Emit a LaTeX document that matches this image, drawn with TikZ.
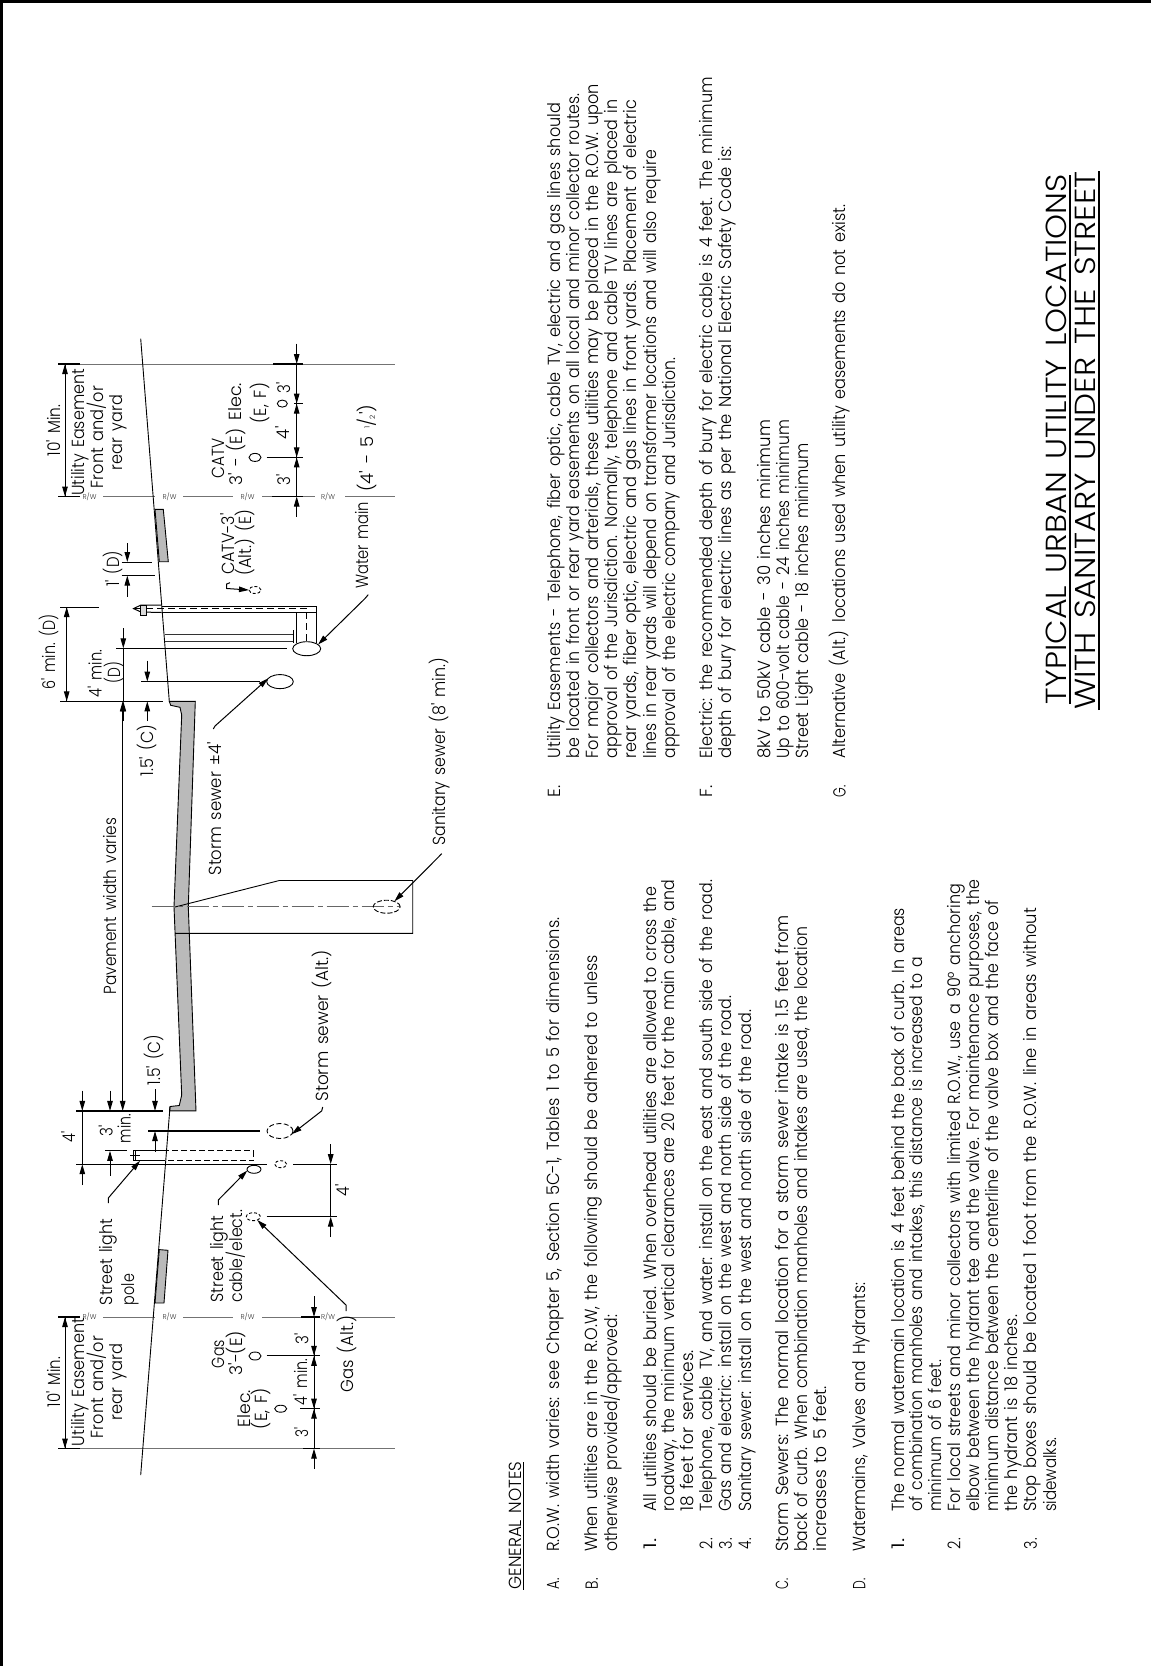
\documentclass[tikz,border=0pt]{standalone}
\usepackage{fontspec}
\setmainfont{Poppins}[UprightFont=* Light]
\usetikzlibrary{arrows.meta,shapes.geometric}
\newcount\tnum
\newcommand\ft{\textquotesingle}
\newcommand\wsp{\spaceskip .4em\relax}
\newcommand\tl[4]{\global\advance\tnum by 1 \pgfmathsetmacro\tlen{#2-#3}\node[txt,name=t\the\tnum] at (#1,#2) {\resizebox{\tlen pt}{\height}{\wsp #4}};}
\newcommand\tlB[4]{\global\advance\tnum by 1 \pgfmathsetmacro\tlen{#2-#3}\node[txt,font=\fontsize{29}{29}\selectfont,name=t\the\tnum] at (#1,#2) {\resizebox{\tlen pt}{\height}{\wsp #4}};}
\newcommand\rw[2]{\global\advance\tnum by 1 \node[rwt,name=t\the\tnum] at (#1,#2) {R/W};}
\tikzset{
 txt/.style={rotate=90,anchor=base west,inner sep=0,outer sep=0,font=\fontsize{17.5}{17.5}\selectfont,text=black},
 rwt/.style={inner sep=0,font=\fontsize{7}{7}\selectfont,text=black!80},
 thin line/.style={line width=0.8pt,black!55},
 heavy/.style={line width=1.2pt,black},
 med/.style={line width=0.9pt,black},
 dimar/.style={-{Triangle[length=10pt,width=5.5pt]},line width=1pt,black},
 pipe/.style={ellipse,draw,line width=0.9pt,inner sep=0,outer sep=0,fill=white},
 pipealt/.style={pipe,dashed,dash pattern=on 5pt off 2.5pt},
 slab/.style={draw,line width=0.9pt,fill=black!27}
}
\begin{document}
\begin{tikzpicture}[x=1pt,y=-1pt]
\useasboundingbox (0,0) rectangle (1151,1666);
\fill[white] (0,0) rectangle (1151,1666);
% frame
\draw[line width=3.4pt,black] (1.7,1666) -- (1.7,1.7) -- (1151,1.7);

% right-of-way and easement lines
\foreach \yy in {1317,496.5}{
 \draw[thin line] (103,\yy) -- (155,\yy) (183,\yy) -- (233,\yy) (262,\yy) -- (315,\yy) (345,\yy) -- (395,\yy);
 \draw[heavy] (58,\yy) -- (80,\yy);
}
\rw{89.5}{1317}\rw{169.5}{1317}\rw{247.5}{1317}\rw{328}{1317}
\rw{89.5}{496.5}\rw{169.5}{496.5}\rw{247.5}{496.5}\rw{328}{496.5}
\foreach \yy in {1448.6,364}{
 \draw[thin line] (58,\yy) -- (395,\yy);
 \draw[heavy] (58,\yy) -- (80,\yy);
}

% pavement
\draw[slab] (169.5,1110.9) -- (170,1106.5) -- (179.3,1105.5) -- (181.7,1095) -- (174,906.7) -- (181.7,715) -- (180,707.3) -- (170.7,705.3) -- (169.3,701.3) -- (195.3,701.3) -- (188.3,906.7) -- (196,1110.9) -- cycle;
% ground
\draw[med] (140.7,1475) -- (170,1107);
\draw[med] (140.7,338.7) -- (169.3,701.3);
% sidewalks
\draw[slab] (159.3,1249.6) -- (168,1250.3) -- (164,1303) -- (155,1303) -- cycle;
\draw[slab] (155,509.3) -- (163.3,509.3) -- (168.3,561.7) -- (159.3,561.7) -- cycle;

% sanitary trench
\draw[med] (175,907) -- (279.3,880.5) -- (412.7,880.5) -- (412.7,933.3) -- (175,933.3);
\draw[line width=0.8pt,black!60,dash pattern=on 22pt off 4pt on 5pt off 4pt] (151.7,906.7) -- (400,906.7);
\node[pipe,dashed,dash pattern=on 5pt off 2pt,minimum width=27pt,minimum height=13pt,fill=none] (san) at (386.7,906.7) {};
\coordinate (sanA) at (441.7,853.6);
\coordinate (sanB) at (438,857.5);
\draw[dimar] (sanA) -- (sanB) -- (san.35);
\tl{445}{845.7}{657.8}{Sanitary sewer (8\ft{} min.)}

% pavement width
\draw[med] (122.7,722) -- (122.7,1090);
\draw[dimar] (122.7,1090) -- (122.7,1110.9);
\draw[dimar] (122.7,722) -- (122.7,701.3);
\tl{116}{994.3}{818}{Pavement width varies}

% left curb dims
\draw[heavy] (76,1110.9) -- (163.3,1110.9);
\draw[heavy] (76,1164.2) -- (266.7,1164.2) (293,1164.2) -- (337,1164.2);
\draw[med] (82.3,1110.9) -- (82.3,1164.2);
\draw[dimar] (82.3,1090.5) -- (82.3,1110.9);
\draw[dimar] (82.3,1185) -- (82.3,1164.2);
\tl{75}{1142}{1131}{4\ft}
\draw[dimar] (110,1090.5) -- (110,1110.9);
\draw[med] (105,1150.8) -- (127,1150.8);
\draw[dimar] (110,1175.5) -- (110,1150.8);
\tl{112.7}{1136.8}{1125.7}{3\ft}
\tl{130.7}{1143}{1114}{min.}
\draw[dimar] (155,1089) -- (155,1110.9);
\tl{160}{1085}{1035}{1.5\ft{} (C)}
\draw[heavy] (148,1131) -- (260,1131);
\draw[dimar] (155,1151.5) -- (155,1131);
\node[pipealt,minimum width=26pt,minimum height=15pt,fill=none] (stormL) at (280,1131) {};
\coordinate (stormLa) at (322.7,1107);
\coordinate (stormLb) at (321.7,1110.9);
\draw[dimar] (stormLa) -- (stormLb) -- (stormL.-15);
\tl{328}{1101.6}{950}{Storm sewer (Alt.)}

% street light pole
\draw[med] (163,1150.8) -- (133.3,1150.8) -- (133.3,1160.8) -- (163,1160.8);
\draw[med,dashed,dash pattern=on 6pt off 3pt] (163,1150.8) -- (253.3,1150.8) -- (253.3,1160.8) -- (163,1160.8);
\draw[line width=0.8pt] (130,1155) -- (140,1155) (135,1151) -- (135,1160);
\coordinate (poleA) at (108.3,1203);
\coordinate (poleB) at (108.3,1198);
\draw[dimar] (poleA) -- (poleB) -- (140,1160.8);
\tl{112.7}{1305}{1219}{Street light}
\tl{134}{1305}{1274}{pole}

% street light cable
\node[pipe,minimum width=14pt,minimum height=8pt] (slc) at (254,1169.3) {};
\coordinate (slcA) at (218.3,1205);
\coordinate (slcB) at (218.3,1200);
\draw[dimar] (slcA) -- (slcB) -- (slc.190);
\tl{223}{1302.5}{1216}{Street light}
\tl{242}{1302.5}{1210}{cable/elect.}
\node[pipealt,minimum width=12pt,minimum height=7pt,fill=none,dash pattern=on 3pt off 2pt] (alt1) at (280.7,1164.2) {};

% 4 ft
\draw[heavy] (266.7,1216.7) -- (336.7,1216.7);
\draw[med] (330.7,1164.2) -- (330.7,1216.7);
\draw[dimar] (330.7,1144) -- (330.7,1164.2);
\draw[dimar] (330.7,1237) -- (330.7,1216.7);
\tl{349.3}{1196}{1184}{4\ft}
\node[pipealt,minimum width=14pt,minimum height=8pt,fill=none,dash pattern=on 3pt off 2pt] (gasalt) at (253.3,1216.7) {};
\coordinate (gasA) at (346,1311);
\coordinate (gasB) at (346,1305);
\draw[dimar] (gasA) -- (gasB) -- (gasalt.-40);
\tl{353}{1392}{1316}{Gas (Alt.)}

% left easement dims
\draw[med] (314,1317) -- (314,1448.6);
\draw[dimar] (314,1296) -- (314,1317);
\draw[dimar] (314,1335) -- (314,1355.8);
\draw[dimar] (314,1376) -- (314,1355.8);
\draw[dimar] (314,1388) -- (314,1408.7);
\draw[dimar] (314,1429) -- (314,1408.7);
\draw[dimar] (314,1468.6) -- (314,1448.6);
\draw[heavy] (266.7,1355.8) -- (320,1355.8) (300,1408.7) -- (320,1408.7) (301,1317) -- (320,1317) (303,1448.6) -- (320,1448.6);
\tl{308.3}{1344}{1333}{3\ft}
\tl{307}{1405}{1359}{4\ft{} min.}
\tl{308}{1437}{1427}{3\ft}
\tl{224}{1368}{1340}{Gas}
\tl{242.7}{1375.4}{1331}{3\ft-(E)}
\node[pipe,minimum width=12pt,minimum height=8pt] (gasP) at (255,1356) {};
\tl{250}{1427}{1390}{Elec.}
\tl{267}{1429}{1388}{(E, F)}
\node[pipe,minimum width=12pt,minimum height=7pt] (elP) at (280.7,1408.7) {};
% easement labels left
\draw[med] (65,1317) -- (65,1448.6);
\draw[dimar] (65,1350) -- (65,1317);
\draw[dimar] (65,1416) -- (65,1448.6);
\tl{60}{1407}{1357}{10\ft{} Min.}
\tl{84}{1446}{1318}{Utility Easement}
\tl{103.3}{1438}{1336}{Front and/or}
\tl{122.7}{1420}{1344}{rear yard}

% easement labels right
\draw[med] (65,364) -- (65,496.5);
\draw[dimar] (65,398) -- (65,364);
\draw[dimar] (65,463) -- (65,496.5);
\tl{60}{456}{404.8}{10\ft{} Min.}
\tl{84}{495.7}{369}{Utility Easement}
\tl{103.3}{488}{386}{Front and/or}
\tl{122.7}{470}{395}{rear yard}

% right curb dims
\draw[heavy] (60,701.3) -- (163.3,701.3);
\draw[heavy] (116,648.3) -- (286.7,648.3);
\draw[med] (123.3,648.3) -- (123.3,701.3);
\draw[dimar] (123.3,628) -- (123.3,648.3);
\draw[dimar] (123.3,721) -- (123.3,701.3);
\tl{101.7}{697.4}{650}{4\ft{} min.}
\tl{120}{683.5}{662}{(D)}
\draw[thin line,black] (60,607) -- (99.3,607);
\draw[med] (66.7,607) -- (66.7,701.3);
\draw[dimar] (66.7,628) -- (66.7,607);
\draw[dimar] (66.7,680) -- (66.7,701.3);
\tl{55}{689.5}{614}{6\ft{} min. (D)}
\draw[heavy] (141,681.6) -- (260,681.6);
\draw[dimar] (147.3,660.6) -- (147.3,681.6);
\draw[dimar] (147.3,721) -- (147.3,701.3);
\tl{153}{776.5}{725}{1.5\ft{} (C)}
\node[pipe,minimum width=26.6pt,minimum height=14pt] (stormR) at (280,681.6) {};
\coordinate (stormRa) at (213.3,729);
\coordinate (stormRb) at (215,726);
\draw[dimar] (stormRa) -- (stormRb) -- (stormR.165);
\tl{221.7}{875.3}{742}{Storm sewer ±4\ft}

% 1 ft
\draw[med] (121.7,562) -- (151.7,562) (121.7,575.6) -- (155,575.6);
\draw[dimar] (127.3,543) -- (127.3,562);
\draw[dimar] (127.3,596.5) -- (127.3,575.6);
\tl{119}{586.7}{551}{1\ft{} (D)}

% hydrant
\draw[line width=1pt] (161.7,606) -- (316,606) -- (316,643);
\draw[line width=1pt] (161.7,612.3) -- (296.7,612.3) -- (296.7,643);
\draw[line width=0.9pt] (296.7,612.3) -- (316,612.3);
\draw[line width=0.9pt,dashed,dash pattern=on 7pt off 4pt] (135,608.6) -- (306.7,608.6);
\draw[line width=0.9pt,dashed,dash pattern=on 7pt off 4pt] (306.7,612.3) -- (306.7,642);
\draw[line width=1pt] (161.7,605) -- (141,605) -- (133.5,608.6) -- (141,612) -- (161.7,612.5);
\draw[line width=1pt,fill=black!15] (140,605) rectangle (146,615);
% valve
\draw[line width=0.8pt,black!80] (165,634.3) -- (293.3,634.3) (165,641) -- (293.3,641);
\draw[line width=0.9pt] (293.3,630) -- (293.3,643);
\node[pipe,minimum width=28pt,minimum height=14pt] (water) at (306.7,648.7) {};
\coordinate (waterA) at (368.3,594.6);
\coordinate (waterB) at (365,598.5);
\draw[dimar] (waterA) -- (waterB) -- (water.20);
\tl{368}{588.7}{501.7}{Water main}
\tl{373}{491.8}{404.8}{(4\ft{} - 5 \raisebox{.35ex}{\scriptsize 1}/\raisebox{-.2ex}{\scriptsize 2}\ft)}

% CATV alt
\tl{234}{574.8}{513.5}{CATV-3\ft}
\tl{251.7}{575.6}{509.6}{(Alt.) (E)}
\node[pipealt,minimum width=12pt,minimum height=7pt,fill=none,dash pattern=on 3pt off 2pt] (catvalt) at (255,590) {};
\coordinate (catvA) at (230,582.7);
\coordinate (catvB) at (226.7,584);
\coordinate (catvC) at (226.7,588.5);
\draw[dimar] (catvA) -- (catvB) -- (catvC) -- (catvalt.west);

% right easement dims
\draw[med] (296.7,364) -- (296.7,496.5);
\draw[dimar] (296.7,343.5) -- (296.7,364);
\draw[dimar] (296.7,383) -- (296.7,403.6);
\draw[dimar] (296.7,424) -- (296.7,403.6);
\draw[dimar] (296.7,437) -- (296.7,457.4);
\draw[dimar] (296.7,478) -- (296.7,457.4);
\draw[dimar] (296.7,516.7) -- (296.7,496.5);
\draw[heavy] (266.7,457.4) -- (303,457.4) (294,403.6) -- (303,403.6) (273,364) -- (303,364) (272,496.5) -- (303,496.5);
\tl{290}{393}{382}{3\ft}
\tl{289}{439}{426.5}{4\ft}
\tl{290}{485}{474}{3\ft}
\tl{224}{478}{438}{CATV}
\tl{242.7}{485.8}{428.5}{3\ft{} - (E)}
\node[pipe,minimum width=12pt,minimum height=8pt] (catvP) at (255,457.4) {};
\tl{241.7}{420.6}{383}{Elec.}
\tl{266}{423}{383}{(E, F)}
\node[pipe,minimum width=10pt,minimum height=7pt] (elR) at (282.3,403.6) {};

% general notes
\tl{521}{1589.5}{1461.5}{GENERAL NOTES}
\draw[line width=1pt] (523.7,1589.5) -- (523.7,1461.5);
\tl{559.2}{1589}{1578}{A.}
\tl{559.2}{1551.7}{917.6}{R.O.W. width varies: see Chapter 5, Section 5C-1, Tables 1 to 5 for dimensions.}
\tl{597.9}{1589}{1578}{B.}
\tl{597.9}{1551.7}{955}{When utilities are in the R.O.W, the following should be adhered to unless}
\tl{617}{1551.7}{1315}{otherwise provided/approved:}
\tl{656}{1549}{1538}{1.}
\tl{656}{1511.7}{887}{All utilities should be buried. When overhead utilities are allowed to cross the}
\tl{674.4}{1511.7}{880}{roadway, the minimum vertical clearances are 20 feet for the main cable, and}
\tl{693.5}{1511.7}{1350}{18 feet for services.}
\tl{712.3}{1549}{1538}{2.}
\tl{712.3}{1511.7}{880}{Telephone, cable TV, and water: install on the east and south side of the road.}
\tl{731.8}{1549}{1538}{3.}
\tl{731.8}{1511.7}{996}{Gas and electric: install on the west and north side of the road.}
\tl{751}{1549}{1538}{4.}
\tl{751}{1511.7}{1010}{Sanitary sewer: install on the west and north side of the road.}
\tl{788}{1589}{1578}{C.}
\tl{788}{1551.7}{915}{Storm Sewers: The normal location for a storm sewer intake is 1.5 feet from}
\tl{807.2}{1551.7}{927}{back of curb. When combination manholes and intakes are used, the location}
\tl{826.3}{1551.7}{1386}{increases to 5 feet.}
\tl{865.4}{1589}{1578}{D.}
\tl{865.4}{1551.7}{1283}{Watermains, Valves and Hydrants:}
\tl{904}{1549}{1538}{1.}
\tl{904}{1511.7}{908}{The normal watermain location is 4 feet behind the back of curb. In areas}
\tl{922}{1511.7}{957}{of combination manholes and intakes, this distance is increased to a}
\tl{941}{1511.7}{1360}{minimum of 6 feet.}
\tl{960.3}{1549}{1538}{2.}
\tl{960.3}{1511.7}{884}{For local streets and minor collectors with limited R.O.W., use a 90° anchoring}
\tl{979.4}{1511.7}{880}{elbow between the hydrant tee and the valve. For maintenance purposes, the}
\tl{998.6}{1511.7}{900}{minimum distance between the centerline of the valve box and the face of}
\tl{1017.7}{1511.7}{1315}{the hydrant is 18 inches.}
\tl{1036.8}{1549}{1538}{3.}
\tl{1036.8}{1511.7}{908}{Stop boxes should be located 1 foot from the R.O.W. line in areas without}
\tl{1056}{1511.7}{1437.5}{sidewalks.}

\tl{560}{797}{785}{E.}
\tl{560}{758.3}{103}{Utility Easements - Telephone, fiber optic, cable TV, electric and gas lines should}
\tl{579.3}{758.3}{93.5}{be located in front or rear yard easements on all local and minor collector routes.}
\tl{598.3}{758.3}{84}{For major collectors and arterials, these utilities may be placed in the R.O.W. upon}
\tl{617.3}{758.3}{99.6}{approval of the Jurisdiction. Normally, telephone and cable TV lines are placed in}
\tl{636.7}{758.3}{100}{rear yards, fiber optic, electric and gas lines in front yards. Placement of electric}
\tl{656}{758.3}{150}{lines in rear yards will depend on transformer locations and will also require}
\tl{675}{758.3}{358}{approval of the electric company and Jurisdiction.}
\tl{712.7}{797}{785}{F.}
\tl{712.7}{758.3}{77}{Electric: the recommended depth of bury for electric cable is 4 feet. The minimum}
\tl{731.8}{758.3}{146}{depth of bury for electric lines as per the National Electric Safety Code is:}
\tl{770}{758.3}{420}{8kV to 50kV cable - 30 inches minimum}
\tl{789}{758.3}{420}{Up to 600-volt cable - 24 inches minimum}
\tl{808}{758.3}{443}{Street Light cable - 18 inches minimum}
\tl{845.5}{797}{785}{G.}
\tl{845.5}{758.3}{205}{Alternative (Alt.) locations used when utility easements do not exist.}

% title
\tlB{1066.7}{704}{174}{TYPICAL URBAN UTILITY LOCATIONS}
\tlB{1095}{709.8}{171.3}{WITH SANITARY UNDER THE STREET}
\draw[line width=1.3pt] (1070,704) -- (1070,175) (1099,710) -- (1099,171);
\end{tikzpicture}
\end{document}
